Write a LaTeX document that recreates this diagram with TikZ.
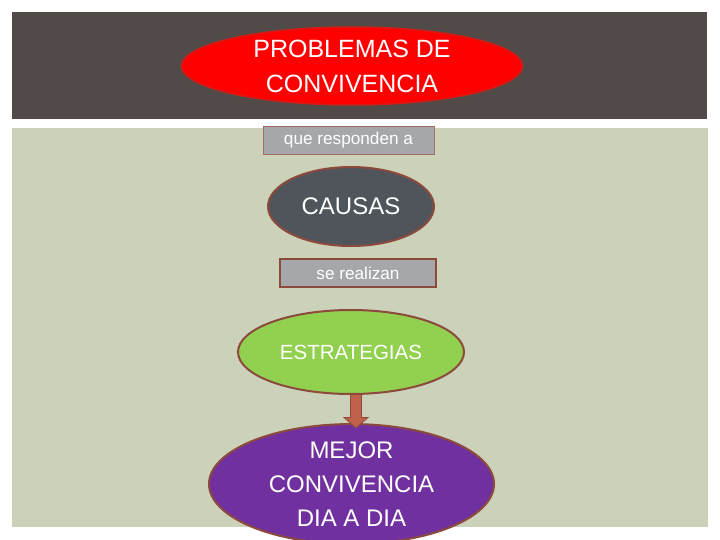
\documentclass[tikz,border=0pt]{standalone}
\usepackage{fontspec}
\setmainfont{Liberation Sans}
\usetikzlibrary{shapes.geometric,calc}
\definecolor{band}{HTML}{524A49}
\definecolor{panel}{HTML}{CCD1B9}
\definecolor{brd}{HTML}{8B4A3C}
\definecolor{boxg}{HTML}{A5A7AB}
\definecolor{causa}{HTML}{50555C}
\definecolor{estr}{HTML}{92D050}
\definecolor{mejor}{HTML}{7030A0}
\definecolor{arrowc}{HTML}{C0614A}
\tikzset{
  ell/.style={ellipse, draw=brd, line width=2pt, text=white, align=center, inner sep=0pt},
  lbox/.style={rectangle, fill=boxg, text=white, font=\fontsize{17.2}{18}\selectfont, inner sep=0pt},
}
\begin{document}
\begin{tikzpicture}[x=1pt,y=-1pt]
\useasboundingbox (0,0) rectangle (720,540);
\fill[white] (0,0) rectangle (720,540);
\fill[band] (12,12) rectangle (707,119);
\fill[panel] (12,128) rectangle (708,527);
\node[ell, fill=red, draw=red!60!brd, line width=1.5pt, minimum width=341, minimum height=78,
  font=\fontsize{25}{35}\selectfont] (prob) at (352,66) {PROBLEMAS DE\\CONVIVENCIA};
\node[lbox, draw=brd!80, line width=0.8pt, minimum width=171, minimum height=28] (resp) at (348.5,140) {que responden a};
\node[ell, fill=causa, minimum width=166, minimum height=79,
  font=\fontsize{24}{28}\selectfont] (causas) at (351,206.5) {CAUSAS};
\node[lbox, draw=brd, line width=2pt, minimum width=156, minimum height=28] (real) at (358,273) {se realizan};
\node[ell, fill=estr, minimum width=226, minimum height=84,
  font=\fontsize{20.5}{24}\selectfont] (estr) at (351,352) {ESTRATEGIAS};
\node[ell, fill=mejor, minimum width=285, minimum height=110,
  font=\fontsize{24}{34}\selectfont] (mejor) at (351.5,484) {MEJOR\\CONVIVENCIA\\DIA A DIA};
\coordinate (atop) at (356,394.5);
\coordinate (atip) at (356,428);
\draw[fill=arrowc, draw=brd, line width=0.8pt]
  ($(atop)+(-5.5,0)$) -- ($(atop)+(5.5,0)$) -- ($(atop)+(5.5,23)$) -- ($(atop)+(12,23)$)
  -- (atip) -- ($(atop)+(-12,23)$) -- ($(atop)+(-5.5,23)$) -- cycle;
\end{tikzpicture}
\end{document}
